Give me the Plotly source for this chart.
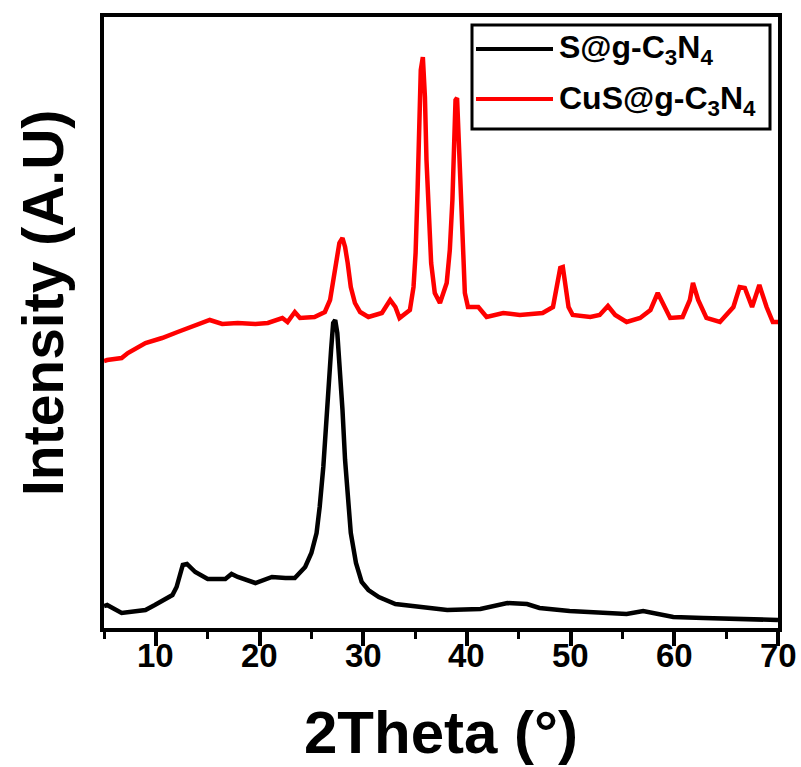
import plotly.graph_objects as go

# S@g-C3N4 (black) : 2theta, intensity (a.u.)
s_theta = [5.0, 5.3, 6.7, 9.0, 9.9, 11.6, 12.0, 12.6, 13.0, 13.8, 15.0, 16.7, 17.3, 17.9, 19.6,
           21.2, 22.5, 23.4, 24.4, 25.0, 25.5, 25.8, 26.15, 26.4, 26.6, 26.9, 27.1, 27.3,
           27.5, 27.75, 28.0, 28.25, 28.5, 28.8, 29.3, 29.85, 30.5, 31.5, 33.1, 34.7, 35.5,
           38.1, 41.3, 43.9, 45.8, 47.0, 49.9, 53.1, 55.4, 57.0, 57.9, 59.9, 62.8, 66.0, 70.0]
s_int = [22, 23, 15, 18, 23, 33, 41, 63, 64, 56, 49, 49, 54, 51, 45,
         51, 50, 50, 61, 75, 95, 121, 161, 201, 245, 278, 305, 308,
         295, 261, 218, 168, 128, 95, 65, 46, 38, 31, 24, 22, 21,
         18, 19, 25, 24, 20, 17, 15, 14, 17, 15, 11, 10, 9, 8]

# CuS@g-C3N4 (red)
c_theta = [5.0, 5.3, 6.7, 7.3, 9.0, 10.6, 12.1, 13.8, 15.2, 16.4, 17.9, 19.6, 20.8, 22.2, 22.7,
           23.4, 23.9, 25.3, 26.3, 26.8, 27.1, 27.45, 27.7, 28.0, 28.25, 28.5, 28.8, 29.2,
           29.7, 30.5, 31.8, 32.6, 33.1, 33.5, 34.5, 34.85, 35.05, 35.25, 35.4, 35.55, 35.75,
           35.95, 36.1, 36.3, 36.55, 36.9, 37.4, 38.05, 38.35, 38.6, 38.75, 38.9, 39.05,
           39.25, 39.4, 39.6, 39.8, 40.1, 41.1, 41.9, 43.5, 45.1, 47.3, 48.3, 48.65, 49.0,
           49.25, 49.45, 49.8, 50.2, 51.9, 52.8, 53.6, 54.3, 55.4, 56.7, 57.7, 58.4, 58.9,
           59.6, 60.8, 61.5, 61.8, 62.3, 63.1, 64.4, 65.7, 66.3, 66.8, 67.5, 68.2, 68.9,
           69.5, 70.0]
c_int = [267, 268, 270, 275, 285, 290, 296, 303, 308, 304, 305, 304, 305, 310, 306,
         316, 310, 311, 316, 328, 345, 368, 385, 390, 381, 365, 341, 325,
         316, 311, 315, 328, 321, 310, 318, 341, 375, 441, 498, 558, 571,
         531, 468, 408, 365, 335, 325, 345, 378, 428, 481, 528, 530,
         475, 421, 368, 335, 321, 321, 311, 315, 313, 315, 321, 341, 360,
         361, 345, 321, 313, 311, 313, 322, 313, 306, 310, 318, 335, 325,
         310, 311, 328, 345, 328, 310, 306, 321, 341, 340, 321, 343, 321,
         306, 306]

x_ticks = [10, 20, 30, 40, 50, 60, 70]
series_names = ["S@g-C<sub>3</sub>N<sub>4</sub>", "CuS@g-C<sub>3</sub>N<sub>4</sub>"]
series_colors = ["#000000", "#ff0000"]

FONT = "Liberation Sans"
W, H = 801, 767
L, R, T, B = 104, 778, 17, 628

fig = go.Figure()
fig.add_trace(go.Scatter(x=s_theta, y=s_int, mode="lines", name=series_names[0],
                         line=dict(color=series_colors[0], width=4.5), showlegend=False))
fig.add_trace(go.Scatter(x=c_theta, y=c_int, mode="lines", name=series_names[1],
                         line=dict(color=series_colors[1], width=4.5), showlegend=False))

def px(xp):
    return (xp - L) / (R - L)

def py(yp):
    return (B - yp) / (B - T)

# manual legend
shapes = [dict(type="rect", xref="paper", yref="paper", x0=px(472), x1=px(770),
               y0=py(129), y1=py(25), line=dict(color="black", width=3),
               fillcolor="white", layer="above")]
annotations = []
for i, (nm, col) in enumerate(zip(series_names, series_colors)):
    yy = 49 + 50 * i
    shapes.append(dict(type="line", xref="paper", yref="paper", x0=px(476), x1=px(553),
                       y0=py(yy), y1=py(yy), line=dict(color=col, width=4), layer="above"))
    annotations.append(dict(text=nm, xref="paper", yref="paper", x=px(557), y=py(yy + 1),
                            xanchor="left", yanchor="middle", showarrow=False,
                            font=dict(family=FONT, size=32, color="black", weight="bold")))

# tick labels
for t in x_ticks:
    annotations.append(dict(text=str(t), xref="x", yref="paper", x=t, y=py(655),
                            xanchor="center", yanchor="middle", showarrow=False,
                            font=dict(family=FONT, size=33, color="black", weight="bold")))

annotations.append(dict(text="2Theta (°)", xref="paper", yref="paper", x=0.5, y=py(732),
                        xanchor="center", yanchor="middle", showarrow=False,
                        font=dict(family=FONT, size=60, color="black", weight="bold")))
annotations.append(dict(text="Intensity (A.U)", xref="paper", yref="paper", x=px(43), y=py(303),
                        xanchor="center", yanchor="middle", showarrow=False, textangle=-90,
                        font=dict(family=FONT, size=57, color="black", weight="bold")))

fig.update_layout(
    width=W, height=H,
    margin=dict(l=L, r=W - R, t=T, b=H - B),
    plot_bgcolor="white", paper_bgcolor="white",
    shapes=shapes, annotations=annotations,
    showlegend=False,
)
fig.update_xaxes(range=[5, 70], tickvals=x_ticks, showticklabels=False, automargin=False,
                 ticks="outside", ticklen=14, tickwidth=4,
                 tickcolor="black", showline=True, linecolor="black", linewidth=4, mirror=True,
                 showgrid=False, zeroline=False,
                 minor=dict(dtick=5, tick0=5, ticks="outside", ticklen=7, tickwidth=3,
                            tickcolor="black", showgrid=False))
fig.update_yaxes(range=[0, 611], showticklabels=False, ticks="", showline=True, linecolor="black",
                 automargin=False, linewidth=4, mirror=True, showgrid=False, zeroline=False)

fig.write_html("out.html")
